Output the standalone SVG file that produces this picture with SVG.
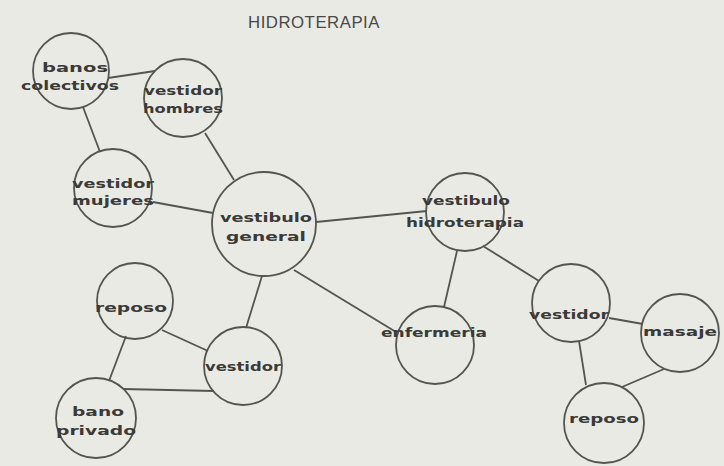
<svg xmlns="http://www.w3.org/2000/svg" width="724" height="466" viewBox="0 0 724 466">
<style>
.bg{fill:#eaeae5}
.n circle{fill:none;stroke:#555550;stroke-width:1.8}
.n text{font-family:"DejaVu Sans",sans-serif;font-weight:bold;font-size:13px;fill:#3a3a38;text-anchor:middle}
#edges line{stroke:#555550;stroke-width:1.8}
.title{font-family:"Liberation Sans",sans-serif;font-size:16px;fill:#484848;text-anchor:middle;letter-spacing:0.5px}
</style>
<rect class="bg" x="0" y="0" width="724" height="466"/>
<text class="title" x="314" y="28" textLength="132" lengthAdjust="spacingAndGlyphs">HIDROTERAPIA</text>
<g id="edges">
<line x1="108" y1="78" x2="155" y2="71"/>
<line x1="83" y1="107" x2="100" y2="152"/>
<line x1="205" y1="133" x2="234" y2="180"/>
<line x1="153" y1="202" x2="213" y2="213"/>
<line x1="316" y1="222" x2="427" y2="211"/>
<line x1="262" y1="276" x2="246" y2="328"/>
<line x1="294" y1="270" x2="396" y2="332"/>
<line x1="457" y1="251" x2="444" y2="307"/>
<line x1="483" y1="246" x2="539" y2="281"/>
<line x1="609" y1="318" x2="643" y2="324"/>
<line x1="579" y1="341" x2="586" y2="385"/>
<line x1="664" y1="369" x2="622" y2="387"/>
<line x1="162" y1="330" x2="208" y2="351"/>
<line x1="126" y1="336" x2="109" y2="381"/>
<line x1="123" y1="389" x2="214" y2="391"/>
</g>
<g id="banos-colectivos" class="n"><circle cx="71" cy="71" r="38"/><text x="75" y="72" textLength="66" lengthAdjust="spacingAndGlyphs">banos</text><text x="70" y="90" textLength="98" lengthAdjust="spacingAndGlyphs">colectivos</text></g>
<g id="vestidor-hombres" class="n"><circle cx="183" cy="98" r="39"/><text x="183" y="95" textLength="78" lengthAdjust="spacingAndGlyphs">vestidor</text><text x="183" y="113" textLength="80" lengthAdjust="spacingAndGlyphs">hombres</text></g>
<g id="vestidor-mujeres" class="n"><circle cx="113" cy="188" r="39"/><text x="113" y="188" textLength="82" lengthAdjust="spacingAndGlyphs">vestidor</text><text x="113" y="205" textLength="82" lengthAdjust="spacingAndGlyphs">mujeres</text></g>
<g id="vestibulo-general" class="n"><circle cx="264" cy="224" r="52"/><text x="266" y="222" textLength="92" lengthAdjust="spacingAndGlyphs">vestibulo</text><text x="266" y="241" textLength="80" lengthAdjust="spacingAndGlyphs">general</text></g>
<g id="vestibulo-hidroterapia" class="n"><circle cx="465" cy="212" r="39"/><text x="466" y="205" textLength="88" lengthAdjust="spacingAndGlyphs">vestibulo</text><text x="465" y="227" textLength="118" lengthAdjust="spacingAndGlyphs">hidroterapia</text></g>
<g id="reposo-1" class="n"><circle cx="135" cy="301" r="38"/><text x="131" y="312" textLength="72" lengthAdjust="spacingAndGlyphs">reposo</text></g>
<g id="vestidor-1" class="n"><circle cx="243" cy="366" r="39"/><text x="243" y="371" textLength="76" lengthAdjust="spacingAndGlyphs">vestidor</text></g>
<g id="bano-privado" class="n"><circle cx="96" cy="418" r="40"/><text x="98" y="416" textLength="52" lengthAdjust="spacingAndGlyphs">bano</text><text x="96" y="435" textLength="80" lengthAdjust="spacingAndGlyphs">privado</text></g>
<g id="enfermeria" class="n"><circle cx="435" cy="345" r="39"/><text x="434" y="337" textLength="106" lengthAdjust="spacingAndGlyphs">enfermeria</text></g>
<g id="vestidor-2" class="n"><circle cx="571" cy="303" r="39"/><text x="569" y="319" textLength="80" lengthAdjust="spacingAndGlyphs">vestidor</text></g>
<g id="masaje" class="n"><circle cx="680" cy="333" r="39"/><text x="680" y="336" textLength="74" lengthAdjust="spacingAndGlyphs">masaje</text></g>
<g id="reposo-2" class="n"><circle cx="604" cy="423" r="40"/><text x="604" y="423" textLength="70" lengthAdjust="spacingAndGlyphs">reposo</text></g>
</svg>
